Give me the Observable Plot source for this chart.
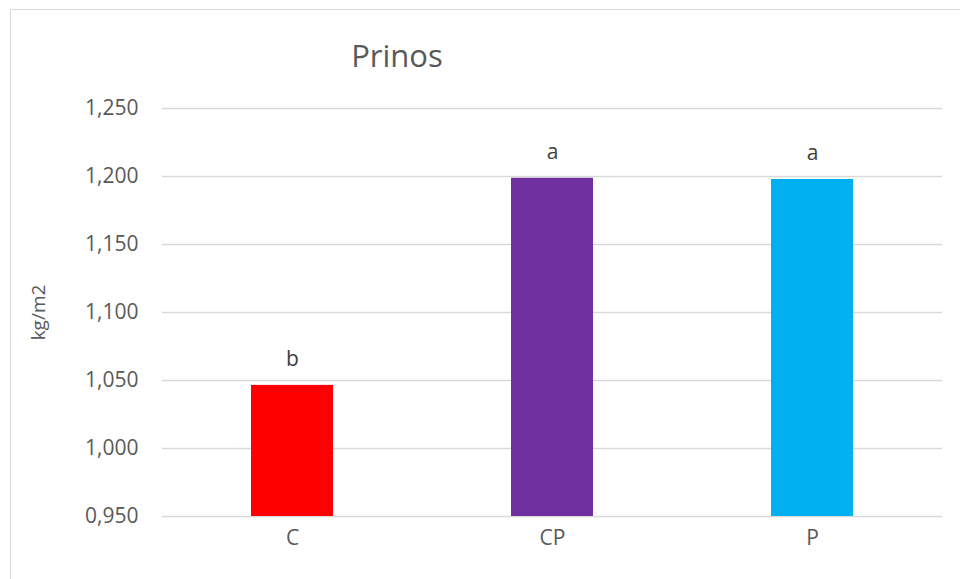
<!DOCTYPE html>
<html>
<head>
<meta charset="utf-8">
<script src="https://cdn.jsdelivr.net/npm/d3@7"></script>
<script src="https://cdn.jsdelivr.net/npm/@observablehq/plot@0.6"></script>
<style>
  html, body { margin: 0; padding: 0; background: #fff; overflow: hidden; }
  #wrap { position: relative; width: 960px; height: 579px; font-family: "Open Sans", sans-serif; }
  #border { position: absolute; left: 10px; top: 9px; width: 980px; height: 620px; border: 1.5px solid #d9d9d9; box-sizing: border-box; }
  #title { position: absolute; left: 397px; top: 55px; transform: translate(-50%, -50%); font-size: 31px; color: #595959; white-space: nowrap; }
  #chart { position: absolute; left: 0; top: 0; }
</style>
</head>
<body>
<div id="wrap">
  <div id="border"></div>
  <div id="chart"></div>
  <div id="title">Prinos</div>
</div>
<script>
const categories = ["C", "CP", "P"];
const values = [1.0464, 1.1987, 1.1978];
const letters = ["b", "a", "a"];
const colors = ["#ff0000", "#7030a0", "#00b0f0"];
const yTicks = [0.95, 1.0, 1.05, 1.1, 1.15, 1.2, 1.25];

const data = categories.map((c, i) => ({cat: c, value: values[i], letter: letters[i], color: colors[i]}));
const fmt = d => d.toFixed(3).replace(".", ",");

const chart = Plot.plot({
  width: 960,
  height: 579,
  marginLeft: 162,
  marginRight: 18,
  marginTop: 108,
  marginBottom: 63,
  style: {fontFamily: "Open Sans, sans-serif", fontSize: "21px", color: "#595959", background: "transparent", overflow: "visible"},
  x: {domain: categories, paddingInner: 0.685, paddingOuter: 0.3425, label: null},
  y: {domain: [0.95, 1.25], label: null},
  marks: [
    Plot.gridY(yTicks, {stroke: "#d9d9d9", strokeOpacity: 1, strokeWidth: 1.4}),
    Plot.barY(data, {x: "cat", y1: 0.95, y2: "value", fill: "color"}),
    Plot.text(data, {x: "cat", y: "value", text: "letter", dy: -19, lineAnchor: "bottom", fill: "#404040", fontSize: 21}),
    Plot.axisY(yTicks, {tickSize: 0, tickPadding: 24, tickFormat: fmt, fontSize: 21, fill: "#595959", label: null}),
    Plot.axisX({tickSize: 0, tickPadding: 14, fontSize: 21, fill: "#595959", label: null}),
    Plot.text(["kg/m2"], {frameAnchor: "left", dx: -124, rotate: -90, fontSize: 19, fill: "#595959", textAnchor: "middle"})
  ]
});
document.getElementById("chart").appendChild(chart);
</script>
</body>
</html>
